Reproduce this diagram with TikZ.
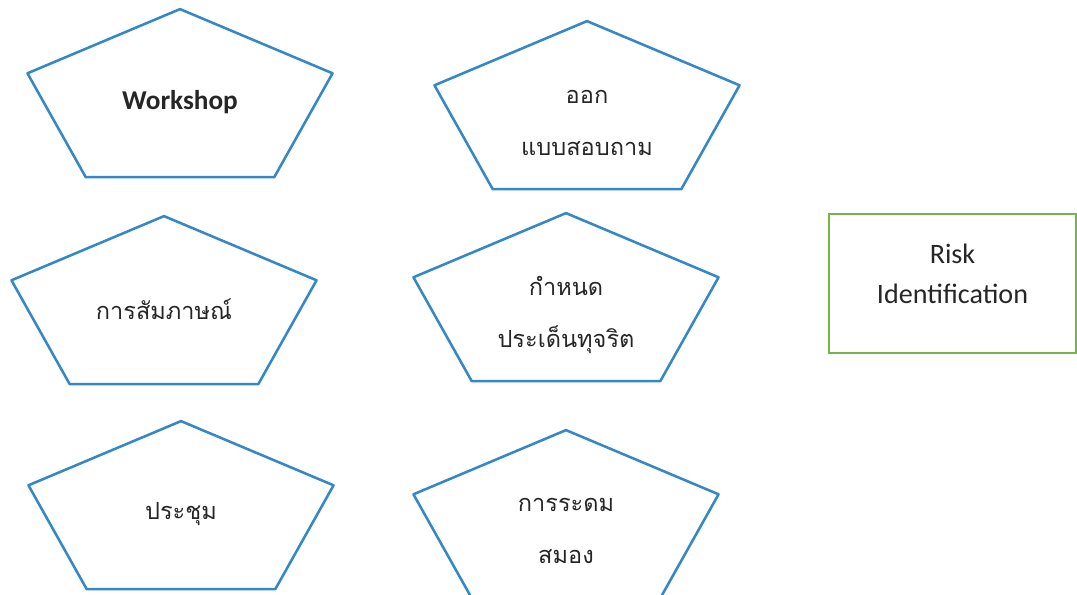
\documentclass[tikz,border=0pt]{standalone}
\usepackage{fontspec}
\setmainfont{Carlito}
\newfontfamily\thaifont[Script=Thai]{Loma}
\usepackage{tikz}
\usetikzlibrary{positioning, calc}
\definecolor{pentblue}{RGB}{52,136,198}
\definecolor{riskgreen}{RGB}{118,180,72}

\begin{document}
\begin{tikzpicture}[
  pentlab/.style={align=center, text=black!85, font=\thaifont\fontsize{13.4}{30}\selectfont},
  pent/.style={draw=pentblue, line width=1.45pt, line join=round, x=3.208cm, y=1.858cm},
  riskbox/.style={rectangle, draw=riskgreen, line width=1.45pt, minimum width=4.94cm, minimum height=2.78cm},
  risktext/.style={align=center, text=black!85, font=\fontsize{16}{22.7}\selectfont}
]
  \useasboundingbox (0,0) rectangle (21.54,-11.88);

  % pentagons: name / centre / text shift / label
  \foreach \n/\x/\y/\dy/\lab in {
      work/3.60/-2.04/0.00/{{\normalfont\bfseries\fontsize{15.5}{18}\selectfont Workshop}},
      quest/11.74/-2.28/-0.18/{ออก\\แบบสอบถาม},
      interview/3.28/-6.18/0.00/{การสัมภาษณ์},
      meeting/3.62/-10.28/0.00/{ประชุม},
      issue/11.32/-6.12/-0.18/{กำหนด\\ประเด็นทุจริต},
      brain/11.32/-10.46/-0.16/{การระดม\\สมอง}} {
    \coordinate (\n c) at (\x,\y);
    \node[pentlab] (\n) at ($(\n c)+(0,\dy)$) {\lab};
    \draw[pent, shift={(\n c)}] (90:1) -- (162:1) -- (234:1) -- (306:1) -- (18:1) -- cycle;
  }

  \node[riskbox] (risk) at (19.05,-5.67) {};
  \node[risktext] (risklab) at ($(risk)+(0,0.2)$) {Risk\\Identification};
\end{tikzpicture}
\end{document}
